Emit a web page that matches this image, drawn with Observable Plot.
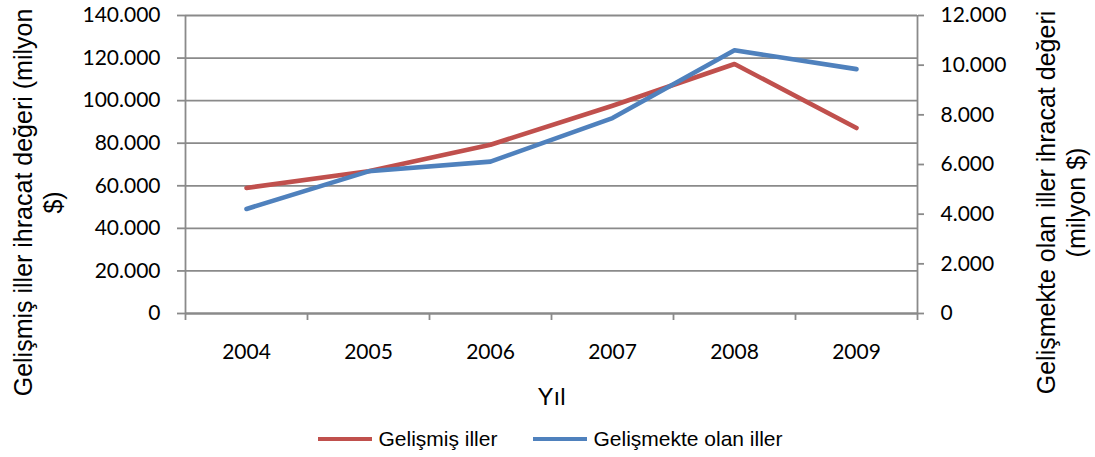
<!DOCTYPE html>
<html>
<head>
<meta charset="utf-8">
<script src="https://cdn.jsdelivr.net/npm/d3@7"></script>
<script src="https://cdn.jsdelivr.net/npm/@observablehq/plot@0.6"></script>
<style>
  html, body { margin: 0; padding: 0; background: #fff; }
  #chart { width: 1095px; }
  .legend { display: flex; justify-content: center; align-items: center; height: 38px;
            font-family: "Liberation Sans", Arial, sans-serif; font-size: 21px; color: #000; padding-left: 6px; }
  .legend .item { display: flex; align-items: center; }
  .legend .sw { width: 54px; height: 4px; margin-right: 6px; }
  .legend .gap { width: 36px; }
</style>
</head>
<body>
<div id="chart"></div>
<script>
const years = [2004, 2005, 2006, 2007, 2008, 2009];
const developed = [59000, 66800, 79300, 97600, 117200, 87150];   // left axis (milyon $)
const developing = [4210, 5725, 6115, 7870, 10600, 9840];        // right axis (milyon $)
const leftTicks = [0, 20000, 40000, 60000, 80000, 100000, 120000, 140000];
const rightTicks = [0, 2000, 4000, 6000, 8000, 10000, 12000];
const seriesNames = ["Gelişmiş iller", "Gelişmekte olan iller"];
const colors = ["#C0504D", "#4F81BD"];
const leftTitle = "Gelişmiş iller ihracat değeri (milyon\n$)";
const rightTitle = "Gelişmekte olan iller ihracat değeri\n(milyon $)";
const xTitle = "Yıl";

const leftMax = 140000, rightMax = 12000;
const ratio = leftMax / rightMax;
const fmt = d3.formatLocale({decimal: ",", thousands: ".", grouping: [3], currency: ["", ""]}).format(",");

const rowsA = years.map((y, i) => ({year: y, v: developed[i]}));
const rowsB = years.map((y, i) => ({year: y, v: developing[i]}));
const bounds = d3.range(years.length + 1).map(i => years[0] - 0.5 + i);

const grid = "#8a8a8a";
const tickFont = "Lato, 'Open Sans', sans-serif";
const titleFont = "'Liberation Sans', Arial, sans-serif";

const chart = Plot.plot({
  width: 1095,
  height: 420,
  marginLeft: 185,
  marginRight: 178,
  marginTop: 15,
  marginBottom: 107,
  style: {fontFamily: tickFont, fontSize: "21px", color: "#000", background: "#fff"},
  x: {domain: [bounds[0], bounds[bounds.length - 1]]},
  y: {domain: [0, leftMax]},
  marks: [
    Plot.gridY(leftTicks, {stroke: grid, strokeOpacity: 1, strokeWidth: 1.8}),
    Plot.axisY(leftTicks, {anchor: "left", tickSize: 8, tickPadding: 17, stroke: grid, strokeWidth: 1.8,
      tickFormat: d => fmt(d), fontSize: 21, fontFamily: tickFont, fill: "#000", label: null}),
    Plot.axisY(rightTicks.map(d => d * ratio), {anchor: "right", tickSize: 6, tickPadding: 17, stroke: grid, strokeWidth: 1.8,
      tickFormat: d => fmt(Math.round(d / ratio)), fontSize: 21, fontFamily: tickFont, fill: "#000", label: null}),
    Plot.axisX(bounds, {anchor: "bottom", tickSize: 7, stroke: grid, strokeWidth: 1.8, tickFormat: () => "", label: null}),
    Plot.axisX(years, {anchor: "bottom", tickSize: 0, tickPadding: 31, tickFormat: d => String(d),
      fontSize: 21, fontFamily: tickFont, fill: "#000", label: null}),
    Plot.ruleX([bounds[0], bounds[bounds.length - 1]], {stroke: grid, strokeWidth: 1.8}),
    Plot.ruleY([0], {stroke: grid, strokeWidth: 1.8}),
    Plot.line(rowsA, {x: "year", y: "v", stroke: colors[0], strokeWidth: 4.6, strokeLinecap: "round", strokeLinejoin: "round"}),
    Plot.line(rowsB, {x: "year", y: d => d.v * ratio, stroke: colors[1], strokeWidth: 4.6, strokeLinecap: "round", strokeLinejoin: "round"}),
    Plot.text([xTitle], {text: d => d, frameAnchor: "bottom", dy: 91, fontSize: 24, fontFamily: titleFont, fill: "#000"}),
    Plot.text([leftTitle], {text: d => d, frameAnchor: "left", dx: -148, dy: 38, rotate: -90, lineHeight: 1.2,
      textAnchor: "middle", lineAnchor: "middle", fontSize: 25, fontFamily: titleFont, fill: "#000"}),
    Plot.text([rightTitle], {text: d => d, frameAnchor: "right", dx: 143, dy: 38, rotate: -90, lineHeight: 1.2,
      textAnchor: "middle", lineAnchor: "middle", fontSize: 25, fontFamily: titleFont, fill: "#000"})
  ]
});
document.getElementById("chart").appendChild(chart);

const legend = document.createElement("div");
legend.className = "legend";
seriesNames.forEach((name, i) => {
  if (i > 0) { const g = document.createElement("div"); g.className = "gap"; legend.appendChild(g); }
  const item = document.createElement("div");
  item.className = "item";
  const sw = document.createElement("div");
  sw.className = "sw";
  sw.style.background = colors[i];
  const label = document.createElement("span");
  label.textContent = name;
  item.appendChild(sw);
  item.appendChild(label);
  legend.appendChild(item);
});
document.getElementById("chart").appendChild(legend);
</script>
</body>
</html>
